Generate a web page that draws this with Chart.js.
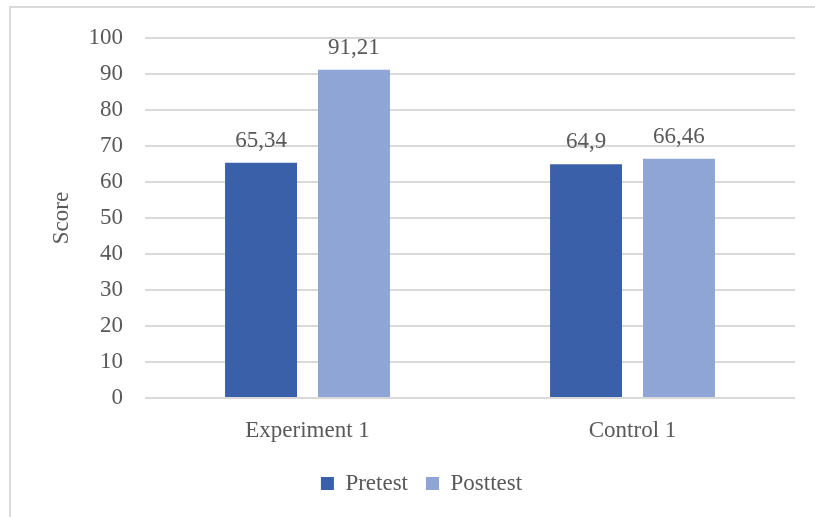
<!DOCTYPE html>
<html>
<head>
<meta charset="utf-8">
<script src="https://cdn.jsdelivr.net/npm/chart.js@4"></script>
<style>
  html, body { margin: 0; padding: 0; background: #ffffff; }
  #wrap { position: relative; width: 815px; height: 517px; overflow: hidden; }
  #frame { position: absolute; left: 9px; top: 6px; width: 820px; height: 530px;
           border-top: 2px solid #d9d9d9; border-left: 2px solid #d9d9d9; }
  canvas { position: absolute; left: 0; top: 0; }
</style>
</head>
<body>
<div id="wrap">
  <div id="frame"></div>
  <canvas id="chart" width="815" height="517"></canvas>
</div>
<script>
// Group names along the x axis
const categories = ["Experiment 1", "Control 1"];
// Mean scores per group
const pretest = [65.34, 64.9];
const posttest = [91.21, 66.46];
// Y axis range
const yTicks = [0, 10, 20, 30, 40, 50, 60, 70, 80, 90, 100];

const SERIF = "'Liberation Serif', 'Times New Roman', serif";
const TEXT = "#595959";
const FS = 23;

Chart.defaults.font.family = SERIF;
Chart.defaults.font.size = FS;
Chart.defaults.color = TEXT;

// Writes each bar's value above it, with a decimal comma
const valueLabels = {
  id: "valueLabels",
  afterDatasetsDraw(chart) {
    const ctx = chart.ctx;
    ctx.save();
    ctx.font = FS + "px " + SERIF;
    ctx.fillStyle = TEXT;
    ctx.textAlign = "center";
    ctx.textBaseline = "alphabetic";
    chart.data.datasets.forEach((ds, di) => {
      const meta = chart.getDatasetMeta(di);
      meta.data.forEach((bar, i) => {
        const txt = String(ds.data[i]).replace(".", ",");
        ctx.fillText(txt, bar.x, bar.y - 16);
      });
    });
    ctx.restore();
  }
};

new Chart(document.getElementById("chart"), {
  type: "bar",
  data: {
    labels: categories,
    datasets: [
      { label: "Pretest", data: pretest, backgroundColor: "#3b60aa",
        categoryPercentage: 0.572, barPercentage: 0.774 },
      { label: "Posttest", data: posttest, backgroundColor: "#8fa5d6",
        categoryPercentage: 0.572, barPercentage: 0.774 }
    ]
  },
  options: {
    responsive: false,
    animation: false,
    layout: { padding: { left: 48, right: 20, top: 38, bottom: 12 } },
    plugins: {
      tooltip: { enabled: false },
      legend: {
        position: "bottom",
        labels: {
          boxWidth: 13, boxHeight: 13, padding: 18,
          font: { size: FS, family: SERIF }, color: TEXT
        }
      }
    },
    scales: {
      x: {
        grid: { display: false, drawTicks: false },
        border: { display: false },
        ticks: { padding: 19, color: TEXT },
        afterFit(scale) { scale.height = 56; }
      },
      y: {
        min: 0, max: 100,
        afterBuildTicks(scale) { scale.ticks = yTicks.map(v => ({ value: v })); },
        grid: { color: "#d9d9d9", lineWidth: 2, drawTicks: false },
        border: { display: false },
        ticks: { padding: 22, color: TEXT },
        title: { display: true, text: "Score", color: TEXT,
                 padding: { top: 0, bottom: 0 } },
        afterFit(scale) { scale.width = 97; }
      }
    }
  },
  plugins: [valueLabels]
});
</script>
</body>
</html>
